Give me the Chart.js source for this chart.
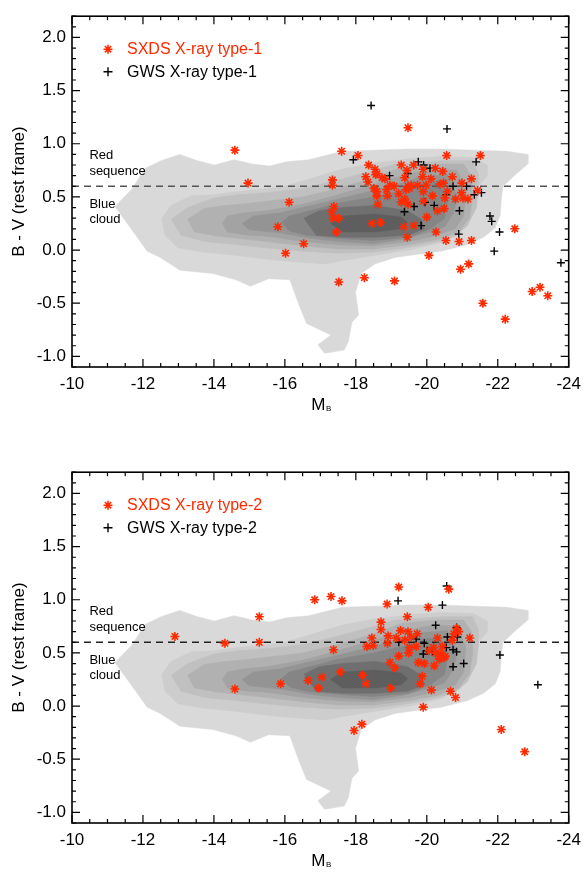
<!DOCTYPE html>
<html>
<head>
<meta charset="utf-8">
<title>B - V vs M_B, X-ray type-1 / type-2</title>
<script src="https://cdn.jsdelivr.net/npm/chart.js@4.4.1/dist/chart.umd.min.js"></script>
<style>
    html, body { margin: 0; padding: 0; background: #fff; overflow: hidden; }
    .panel { position: absolute; left: 0; width: 588px; height: 436px; }
    #panelTop { top: 0; }
    #panelBottom { top: 456px; }
</style>
</head>
<body>
<canvas id="panelTop" class="panel" width="588" height="436"></canvas>
<canvas id="panelBottom" class="panel" width="588" height="436"></canvas>
<script>
/* ===================================================================
 * Colour–magnitude diagram, two panels (type-1 / type-2 X-ray AGN)
 * =================================================================== */

/* Data
 * -------------------------------------------------- */
const xTickValues = [-10, -12, -14, -16, -18, -20, -22, -24];
const yTickValues = [-1.0, -0.5, 0.0, 0.5, 1.0, 1.5, 2.0];
const legendTop = ['SXDS X-ray type-1', 'GWS X-ray type-1'];
const legendBottom = ['SXDS X-ray type-2', 'GWS X-ray type-2'];
const regionLabels = ['Red', 'sequence', 'Blue', 'cloud'];
const redSequenceCut = 0.6;

// SXDS X-ray type-1  [M_B, B-V]
const sxdsType1 = [
    [-14.59, 0.94], [-14.96, 0.63], [-16.12, 0.45], [-15.80, 0.22], [-16.53, 0.06], [-16.02, -0.03],
    [-19.47, 1.15], [-17.60, 0.93], [-18.06, 0.89], [-20.56, 0.89], [-21.51, 0.89], [-18.36, 0.80],
    [-19.28, 0.80], [-19.63, 0.80], [-18.54, 0.76], [-20.24, 0.77], [-20.45, 0.74], [-19.44, 0.75],
    [-19.90, 0.76], [-18.56, 0.71], [-18.28, 0.69], [-18.74, 0.68], [-19.38, 0.68], [-19.88, 0.69],
    [-20.12, 0.67], [-20.72, 0.69], [-21.26, 0.67], [-17.34, 0.66], [-17.34, 0.61], [-18.34, 0.64],
    [-18.82, 0.67], [-18.96, 0.61], [-19.08, 0.60], [-19.47, 0.60], [-19.56, 0.61], [-19.74, 0.61],
    [-19.98, 0.61], [-20.37, 0.62], [-20.47, 0.63], [-18.51, 0.58], [-18.59, 0.55], [-18.87, 0.57],
    [-19.42, 0.57], [-19.51, 0.58], [-19.90, 0.55], [-20.58, 0.55], [-20.98, 0.54], [-21.43, 0.56],
    [-18.59, 0.51], [-18.89, 0.51], [-19.21, 0.53], [-20.16, 0.51], [-20.51, 0.49], [-20.81, 0.48],
    [-21.02, 0.49], [-21.16, 0.48], [-19.38, 0.48], [-19.28, 0.45], [-19.47, 0.43], [-18.62, 0.43],
    [-19.91, 0.46], [-20.30, 0.37], [-20.49, 0.39], [-17.38, 0.41], [-17.32, 0.36], [-17.36, 0.30],
    [-17.52, 0.30], [-20.00, 0.31], [-17.45, 0.17], [-18.45, 0.25], [-18.70, 0.26], [-19.35, 0.22],
    [-19.63, 0.23], [-20.26, 0.17], [-19.45, 0.12], [-22.48, 0.20], [-20.54, 0.09], [-20.91, 0.08],
    [-21.26, 0.09], [-20.06, -0.05], [-21.18, -0.13], [-20.95, -0.18], [-17.52, -0.30], [-18.24, -0.26],
    [-19.09, -0.29], [-21.58, -0.50], [-22.21, -0.65], [-22.97, -0.39], [-23.19, -0.35], [-23.41, -0.43],
    [-20.99, 0.63], [-18.60, 0.72]
];

// GWS X-ray type-1
const gwsType1 = [
    [-18.43, 1.36], [-20.57, 1.14], [-17.93, 0.85], [-19.76, 0.83], [-19.91, 0.80], [-20.09, 0.77],
    [-21.39, 0.83], [-19.46, 0.72], [-18.95, 0.70], [-20.74, 0.60], [-21.12, 0.60], [-20.55, 0.52],
    [-21.34, 0.52], [-21.54, 0.54], [-19.95, 0.45], [-20.21, 0.42], [-19.64, 0.41], [-19.37, 0.36],
    [-20.92, 0.37], [-19.84, 0.23], [-21.78, 0.32], [-21.83, 0.27], [-20.90, 0.15], [-22.05, 0.17],
    [-21.90, -0.01], [-23.78, -0.12]
];

// SXDS X-ray type-2
const sxdsType2 = [
    [-12.90, 0.655], [-14.31, 0.59], [-15.28, 0.84], [-15.28, 0.60], [-14.59, 0.16], [-16.84, 1.00],
    [-17.30, 1.03], [-17.61, 0.99], [-17.37, 0.53], [-15.88, 0.21], [-16.65, 0.24], [-16.95, 0.17],
    [-17.04, 0.27], [-17.56, 0.32], [-17.95, -0.23], [-19.21, 1.12], [-18.88, 0.96], [-20.62, 1.10],
    [-20.04, 0.93], [-19.45, 0.84], [-18.71, 0.79], [-18.71, 0.72], [-18.45, 0.64], [-18.91, 0.66],
    [-18.31, 0.56], [-18.49, 0.57], [-19.14, 0.64], [-18.89, 0.59], [-19.26, 0.71], [-19.47, 0.70],
    [-19.73, 0.68], [-19.56, 0.65], [-19.38, 0.62], [-19.51, 0.55], [-19.70, 0.56], [-19.49, 0.50],
    [-19.21, 0.47], [-20.30, 0.64], [-20.76, 0.68], [-20.84, 0.73], [-20.90, 0.70], [-21.21, 0.64],
    [-20.72, 0.62], [-20.19, 0.55], [-20.39, 0.49], [-20.49, 0.46], [-20.35, 0.47], [-20.07, 0.52],
    [-18.96, 0.41], [-19.10, 0.36], [-19.76, 0.41], [-19.93, 0.40], [-20.21, 0.38], [-18.19, 0.29],
    [-18.28, 0.21], [-18.99, 0.17], [-19.87, 0.28], [-19.81, 0.21], [-20.13, 0.15], [-20.67, 0.14],
    [-20.81, 0.08], [-19.90, -0.01], [-18.17, -0.17], [-22.10, -0.22], [-20.44, 0.56], [-20.25, 0.50],
    [-20.40, 0.45], [-20.52, 0.47], [-20.35, 0.44], [-22.76, -0.43]
];

// GWS X-ray type-2
const gwsType2 = [
    [-20.56, 1.13], [-19.19, 0.99], [-20.44, 0.95], [-20.25, 0.76], [-20.84, 0.74], [-20.58, 0.65],
    [-20.72, 0.65], [-20.86, 0.65], [-19.21, 0.60], [-19.70, 0.63], [-19.93, 0.59], [-20.55, 0.55],
    [-20.74, 0.53], [-20.84, 0.51], [-19.90, 0.49], [-20.01, 0.52], [-20.16, 0.51], [-21.04, 0.40],
    [-20.74, 0.37], [-22.06, 0.48], [-23.13, 0.20]
];

// Background field-galaxy density contours, outer -> inner
const bgLevel1 = [
    [-11.21, 0.41], [-11.68, 0.57], [-12.07, 0.77], [-12.51, 0.84], [-13.04, 0.90], [-13.54, 0.84],
    [-14.01, 0.80], [-14.57, 0.85], [-15.07, 0.81], [-15.57, 0.79], [-16.04, 0.83], [-16.68, 0.85],
    [-17.15, 0.89], [-17.63, 0.93], [-18.54, 0.94], [-19.46, 0.95], [-20.40, 0.95], [-21.32, 0.94],
    [-22.24, 0.93], [-22.85, 0.90], [-22.85, 0.81], [-22.43, 0.69], [-22.15, 0.60], [-22.10, 0.48],
    [-22.07, 0.33], [-21.93, 0.21], [-21.60, 0.12], [-21.13, 0.05], [-20.40, -0.01], [-19.74, -0.04],
    [-19.10, -0.07], [-18.54, -0.13], [-18.15, -0.22], [-17.99, -0.40], [-18.08, -0.61], [-17.89, -0.68],
    [-17.79, -0.86], [-17.67, -0.94], [-17.12, -0.97], [-16.93, -0.89], [-17.30, -0.80], [-16.61, -0.69],
    [-16.38, -0.50], [-16.14, -0.28], [-15.54, -0.27], [-15.03, -0.34], [-14.62, -0.28], [-13.97, -0.22],
    [-13.04, -0.19], [-12.49, -0.07], [-12.12, -0.01], [-11.60, 0.23]
];
const bgLevel2 = [
    [-12.53, 0.30], [-12.79, 0.42], [-13.35, 0.51], [-14.01, 0.52], [-14.65, 0.55], [-15.29, 0.57],
    [-16.00, 0.60], [-16.70, 0.67], [-17.60, 0.76], [-18.50, 0.82], [-19.50, 0.86], [-20.40, 0.88],
    [-21.30, 0.87], [-21.70, 0.80], [-21.70, 0.70], [-21.45, 0.60], [-21.35, 0.42], [-21.20, 0.27],
    [-20.90, 0.15], [-20.40, 0.07], [-19.50, 0.00], [-18.50, -0.05], [-17.60, -0.10], [-17.15, -0.13],
    [-16.23, -0.11], [-15.29, -0.08], [-14.65, -0.05], [-13.73, -0.02], [-12.99, 0.02], [-12.62, 0.14]
];
const bgLevel3 = [
    [-12.80, 0.29], [-13.26, 0.40], [-14.00, 0.49], [-14.65, 0.52], [-15.50, 0.54], [-16.50, 0.58],
    [-17.50, 0.66], [-18.50, 0.75], [-19.10, 0.81], [-20.40, 0.84], [-21.30, 0.84], [-21.45, 0.72],
    [-21.45, 0.55], [-21.40, 0.40], [-21.15, 0.23], [-20.80, 0.13], [-20.20, 0.07], [-19.40, 0.02],
    [-18.50, -0.02], [-17.50, -0.03], [-16.50, -0.01], [-15.50, 0.02], [-14.65, 0.05], [-13.73, 0.08],
    [-13.07, 0.14]
];
const bgLevel4 = [
    [-13.26, 0.29], [-13.73, 0.39], [-14.28, 0.42], [-14.74, 0.43], [-15.50, 0.46], [-16.50, 0.50],
    [-17.50, 0.58], [-18.50, 0.68], [-19.30, 0.78], [-20.30, 0.81], [-21.04, 0.81], [-21.26, 0.70],
    [-21.30, 0.50], [-21.20, 0.30], [-20.90, 0.17], [-20.30, 0.10], [-19.50, 0.05], [-18.50, 0.01],
    [-17.50, 0.01], [-16.50, 0.04], [-15.50, 0.08], [-14.10, 0.13], [-13.45, 0.17]
];
const bgLevel5 = [
    [-14.24, 0.25], [-14.38, 0.32], [-14.84, 0.35], [-15.49, 0.37], [-16.50, 0.43], [-17.50, 0.52],
    [-18.50, 0.62], [-19.50, 0.72], [-20.20, 0.76], [-20.86, 0.75], [-21.10, 0.55], [-21.04, 0.32],
    [-20.80, 0.20], [-20.20, 0.13], [-19.50, 0.08], [-18.50, 0.04], [-17.50, 0.05], [-16.50, 0.08],
    [-15.50, 0.13], [-14.93, 0.14], [-14.38, 0.17]
];
const bgLevel6 = [
    [-14.79, 0.25], [-15.12, 0.32], [-15.86, 0.35], [-16.50, 0.40], [-17.50, 0.48], [-18.50, 0.56],
    [-19.40, 0.64], [-19.80, 0.69], [-20.58, 0.71], [-20.86, 0.51], [-20.76, 0.35], [-20.50, 0.22],
    [-20.00, 0.16], [-19.30, 0.10], [-18.50, 0.06], [-17.50, 0.08], [-16.70, 0.11], [-15.90, 0.16],
    [-15.00, 0.19]
];
const bgLevel7 = [
    [-15.90, 0.26], [-16.13, 0.32], [-16.60, 0.36], [-17.50, 0.44], [-18.50, 0.50], [-19.30, 0.56],
    [-19.84, 0.63], [-20.39, 0.64], [-20.58, 0.45], [-20.50, 0.30], [-20.10, 0.20], [-19.50, 0.12],
    [-18.50, 0.09], [-17.50, 0.11], [-16.60, 0.14], [-16.13, 0.18]
];
const bgLevel8 = [
    [-16.54, 0.30], [-16.96, 0.37], [-17.62, 0.40], [-18.54, 0.42], [-19.46, 0.37], [-19.84, 0.29],
    [-19.93, 0.20], [-19.46, 0.14], [-18.54, 0.12], [-17.62, 0.12], [-16.88, 0.14]
];
const bgLevel9 = [
    [-17.29, 0.25], [-17.62, 0.32], [-18.54, 0.34], [-19.28, 0.31], [-19.46, 0.26], [-19.28, 0.20],
    [-18.54, 0.17], [-17.62, 0.17]
];

/* Styles
 * -------------------------------------------------- */
const FONT = '"Liberation Sans", Arial, Helvetica, sans-serif';
const RED = '#ff2a00';
const contourLevels = [bgLevel1, bgLevel2, bgLevel3, bgLevel4, bgLevel5, bgLevel6, bgLevel7, bgLevel8, bgLevel9];
const contourColors = ['#d9d9d9', '#cdcdcd', '#c0c0c0', '#b1b1b1', '#a3a3a3', '#949494', '#858585', '#6f6f6f', '#5e5e5e'];

function toXY(list) {
    return list.map(function (p) { return { x: p[0], y: p[1] }; });
}

function drawMarker(ctx, style, x, y, r, color, lw) {
    ctx.strokeStyle = color;
    ctx.lineWidth = lw;
    ctx.beginPath();
    ctx.moveTo(x - r, y); ctx.lineTo(x + r, y);
    ctx.moveTo(x, y - r); ctx.lineTo(x, y + r);
    if (style === 'star') {
        const d = r * Math.SQRT1_2;
        ctx.moveTo(x - d, y - d); ctx.lineTo(x + d, y + d);
        ctx.moveTo(x - d, y + d); ctx.lineTo(x + d, y - d);
    }
    ctx.stroke();
}

/* Frame, inward ticks, legend, labels
 * -------------------------------------------------- */
const panelDecor = {
    id: 'panelDecor',
    afterDatasetsDraw: function (chart, args, opts) {
        const ctx = chart.ctx;
        const a = chart.chartArea;
        const xs = chart.scales.x;
        const ys = chart.scales.y;
        ctx.save();

        // ticks on all four sides, pointing in
        ctx.strokeStyle = '#000';
        ctx.lineWidth = 1.2;
        ctx.beginPath();
        for (let i = 0; i <= 28; i++) {
            const v = -10 - i * 0.5;
            const px = xs.getPixelForValue(v);
            const len = (i % 4 === 0) ? 8 : 4;
            ctx.moveTo(px, a.bottom); ctx.lineTo(px, a.bottom - len);
            ctx.moveTo(px, a.top); ctx.lineTo(px, a.top + len);
        }
        for (let i = -11; i <= 22; i++) {
            const py = ys.getPixelForValue(i / 10);
            const len = (i % 5 === 0) ? 8 : 4;
            ctx.moveTo(a.left, py); ctx.lineTo(a.left + len, py);
            ctx.moveTo(a.right, py); ctx.lineTo(a.right - len, py);
        }
        ctx.stroke();

        ctx.lineWidth = 1.6;
        ctx.strokeRect(a.left, a.top, a.right - a.left, a.bottom - a.top);

        // red sequence / blue cloud annotations
        ctx.fillStyle = '#000';
        ctx.font = '13px ' + FONT;
        ctx.textAlign = 'left';
        ctx.textBaseline = 'alphabetic';
        const labelY = [0.852, 0.706, 0.397, 0.252];
        regionLabels.forEach(function (t, i) {
            ctx.fillText(t, xs.getPixelForValue(-10.49), ys.getPixelForValue(labelY[i]));
        });

        // legend
        ctx.font = '16px ' + FONT;
        ctx.textBaseline = 'middle';
        opts.legend.forEach(function (t, i) {
            const y = a.top + 33 + i * 22.5;
            const color = i === 0 ? RED : '#000';
            drawMarker(ctx, i === 0 ? 'star' : 'cross', a.left + 36, y, 4.5, color, i === 0 ? 1.6 : 1.4);
            ctx.fillStyle = color;
            ctx.fillText(t, a.left + 55, y + 0.5);
        });

        // axis titles
        ctx.fillStyle = '#000';
        ctx.font = '17px ' + FONT;
        ctx.textBaseline = 'alphabetic';
        ctx.save();
        ctx.translate(23.5, (a.top + a.bottom) / 2);
        ctx.rotate(-Math.PI / 2);
        ctx.textAlign = 'center';
        ctx.fillText('B - V (rest frame)', 0, 0);
        ctx.restore();

        const cx = (a.left + a.right) / 2;
        ctx.textAlign = 'left';
        ctx.font = '17px ' + FONT;
        const wM = ctx.measureText('M').width;
        ctx.fillText('M', cx - 9, a.bottom + 43);
        ctx.font = '8px ' + FONT;
        ctx.fillText('B', cx - 9 + wM + 0.5, a.bottom + 44);

        ctx.restore();
    }
};

/* Panel builder
 * -------------------------------------------------- */
function makePanel(canvasId, redPts, blackPts, legendText, dashColor) {
    const datasets = [];

    datasets.push({
        data: toXY(redPts),
        pointStyle: 'star',
        pointRadius: 4.5,
        borderWidth: 1.6,
        borderColor: RED,
        backgroundColor: RED,
        showLine: false,
        order: 0
    });
    datasets.push({
        data: toXY(blackPts),
        pointStyle: 'cross',
        pointRadius: 4,
        borderWidth: 1.4,
        borderColor: '#000',
        backgroundColor: '#000',
        showLine: false,
        order: 1
    });
    datasets.push({
        data: [{ x: -10, y: redSequenceCut }, { x: -24, y: redSequenceCut }],
        showLine: true,
        pointRadius: 0,
        borderColor: dashColor,
        borderWidth: 1.5,
        borderDash: [7, 5],
        fill: false,
        order: 2
    });

    contourLevels.forEach(function (lvl, i) {
        const pts = toXY(lvl);
        pts.push({ x: lvl[0][0], y: lvl[0][1] });
        datasets.push({
            data: pts,
            showLine: true,
            pointRadius: 0,
            borderColor: contourColors[i],
            backgroundColor: contourColors[i],
            borderWidth: 0.5,
            tension: 0,
            fill: 'shape',
            order: 20 - i
        });
    });

    return new Chart(document.getElementById(canvasId), {
        type: 'scatter',
        data: { datasets: datasets },
        options: {
            responsive: false,
            animation: false,
            events: [],
            layout: { padding: { top: 4, right: 11, left: 0, bottom: 0 } },
            scales: {
                x: {
                    type: 'linear',
                    reverse: true,
                    min: -24,
                    max: -10,
                    afterFit: function (s) { s.height = 69; },
                    afterBuildTicks: function (s) {
                        s.ticks = xTickValues.map(function (v) { return { value: v }; });
                    },
                    ticks: {
                        color: '#000',
                        font: { family: FONT, size: 17 },
                        padding: 7,
                        maxRotation: 0,
                        autoSkip: false,
                        callback: function (v) { return String(v); }
                    },
                    grid: { display: false, drawTicks: false },
                    border: { display: false }
                },
                y: {
                    type: 'linear',
                    min: -1.1,
                    max: 2.2,
                    afterFit: function (s) { s.width = 72; },
                    afterBuildTicks: function (s) {
                        s.ticks = yTickValues.map(function (v) { return { value: v }; });
                    },
                    ticks: {
                        color: '#000',
                        font: { family: FONT, size: 17 },
                        padding: 6,
                        autoSkip: false,
                        callback: function (v) { return Number(v).toFixed(1); }
                    },
                    grid: { display: false, drawTicks: false },
                    border: { display: false }
                }
            },
            plugins: {
                legend: { display: false },
                tooltip: { enabled: false },
                panelDecor: { legend: legendText }
            }
        },
        plugins: [panelDecor]
    });
}

/* Init
 * -------------------------------------------------- */
makePanel('panelTop', sxdsType1, gwsType1, legendTop, '#555');
makePanel('panelBottom', sxdsType2, gwsType2, legendBottom, '#222');
</script>
</body>
</html>
